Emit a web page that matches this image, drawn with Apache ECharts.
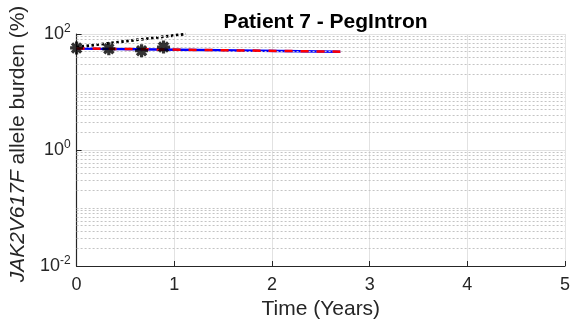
<!DOCTYPE html>
<html>
<head>
<meta charset="utf-8">
<script src="https://cdn.jsdelivr.net/npm/echarts@6/dist/echarts.min.js"></script>
<style>html,body{margin:0;padding:0;background:#fff}#c{width:576px;height:325px}</style>
</head>
<body>
<div id="c"></div>
<script>
// Measured data (years, % allele burden)
const obsTime = [0, 0.33, 0.665, 0.89];
const obsBurden = [57.5, 55.5, 51.5, 59.5];
const fitTime = [0, 2.7];
const fitBurden = [56.5, 49.5];
const trendTime = [0, 1.12];
const trendBurden = [59.5, 100];
const xTicks = [0, 1, 2, 3, 4, 5];
const minorGrid = [0.02,0.03,0.04,0.05,0.06,0.07,0.08,0.09,0.1,0.2,0.3,0.4,0.5,0.6,0.7,0.8,0.9,
  2,3,4,5,6,7,8,9,10,20,30,40,50,60,70,80,90];

const FONT = 'Liberation Sans, Arial, sans-serif';
const AX = '#262626';
const ast = 'path://M0 7.5L20 7.5L20 12.5L0 12.5Z M7.5 0L12.5 0L12.5 20L7.5 20Z M4.7 1.2L18.8 15.3L15.3 18.8L1.2 4.7Z M18.8 4.7L4.7 18.8L1.2 15.3L15.3 1.2Z';

const pair = (xs, ys) => xs.map((x, i) => [x, ys[i]]);

const chart = echarts.init(document.getElementById('c'), null, {renderer: 'canvas'});
chart.setOption({
  animation: false,
  backgroundColor: '#fff',
  title: {
    text: 'Patient 7 - PegIntron',
    left: 320.5, top: 7, textAlign: 'center',
    textStyle: {fontFamily: FONT, fontSize: 21, fontWeight: 'bold', color: '#000'}
  },
  grid: {left: 76, right: 11, top: 34, bottom: 59, containLabel: false},
  xAxis: {
    type: 'value', min: xTicks[0], max: xTicks[xTicks.length - 1], interval: 1,
    name: 'Time (Years)', nameLocation: 'middle', nameGap: 30,
    nameTextStyle: {fontFamily: FONT, fontSize: 21, color: AX},
    axisLine: {show: true, lineStyle: {color: AX, width: 1.2}},
    axisTick: {show: true, inside: true, length: 5, lineStyle: {color: AX}},
    axisLabel: {fontFamily: FONT, fontSize: 18, color: AX, margin: 10},
    splitLine: {show: true, lineStyle: {color: '#e2e2e2', width: 1}}
  },
  yAxis: {
    type: 'log', logBase: 10, min: 0.01, max: 100, interval: 2,
    name: '{i|JAK2V617F} allele burden (%)', nameLocation: 'middle', nameGap: 44,
    nameTextStyle: {fontFamily: FONT, fontSize: 21, color: AX, padding: [0, 0, 0, 12],
      rich: {i: {fontFamily: FONT, fontSize: 21, color: AX, fontStyle: 'italic'}}},
    axisLine: {show: true, lineStyle: {color: AX, width: 1.2}},
    axisTick: {show: true, inside: true, length: 5, lineStyle: {color: AX}},
    axisLabel: {
      margin: 6,
      formatter: v => '{b|10}{s|' + Math.round(Math.log10(v)) + '}',
      rich: {
        b: {fontFamily: FONT, fontSize: 18, color: AX},
        s: {fontFamily: FONT, fontSize: 12, color: AX, padding: [0, 0, 10, 0]}
      }
    },
    splitLine: {show: true, lineStyle: {color: '#e2e2e2', width: 1}}
  },
  series: [
    {
      type: 'line', data: [], silent: true,
      markLine: {
        silent: true, symbol: 'none', label: {show: false},
        lineStyle: {color: '#c4c4c4', type: [2, 2], width: 1},
        data: minorGrid.map(v => ({yAxis: v}))
      }
    },
    {
      type: 'line', data: pair(trendTime, trendBurden), showSymbol: false,
      lineStyle: {color: '#000', width: 2.8, type: [2.5, 2.5]}, z: 3
    },
    {
      type: 'line', data: pair(fitTime, fitBurden), showSymbol: false,
      lineStyle: {color: '#0000ff', width: 2.5}, z: 4
    },
    {
      type: 'line', data: pair(fitTime, fitBurden), showSymbol: false,
      lineStyle: {color: '#ff0000', width: 2.5, type: [8, 8]}, z: 5
    },
    {
      type: 'scatter', data: pair(obsTime, obsBurden),
      symbol: ast, symbolSize: 13, itemStyle: {color: '#000'}, z: 6
    }
  ]
});
</script>
</body>
</html>
